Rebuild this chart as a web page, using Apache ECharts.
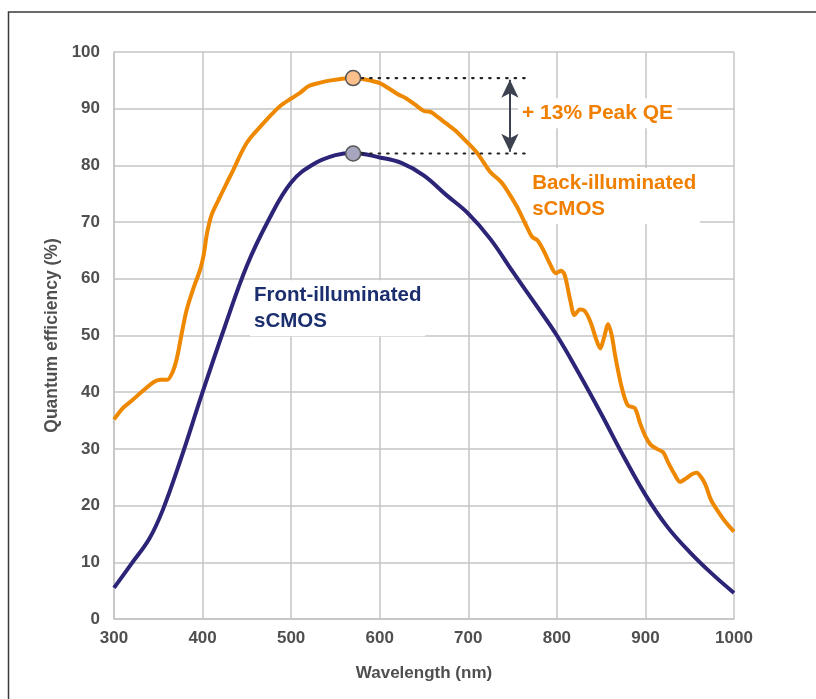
<!DOCTYPE html>
<html>
<head>
<meta charset="utf-8">
<script src="https://cdn.jsdelivr.net/npm/echarts@6/dist/echarts.min.js"></script>
<style>
html,body{margin:0;padding:0;background:#fff;}
#c{width:816px;height:699px;}
</style>
</head>
<body>
<div id="c"></div>
<script>
// ---- data ----
const xTicks = [300, 400, 500, 600, 700, 800, 900, 1000];
const yTicks = [0, 10, 20, 30, 40, 50, 60, 70, 80, 90, 100];

const frontIlluminated = [
  [300,5.5],[320,9.8],[340,14.2],[355,19.2],[375,28],[400,40],[425,51.5],[450,62.3],
  [475,70.5],[500,77],[525,80.2],[550,81.8],[570,82.2],[600,81.4],[625,80.4],[650,78.2],
  [675,74.8],[700,71.5],[725,67],[750,61.3],[775,55.7],[800,50],[825,43.3],[850,36.2],
  [875,28.8],[900,21.9],[925,16.2],[950,11.8],[975,8],[1000,4.6]
];

const backIlluminated = [
  [300,35.2],[310,37.2],[320,38.5],[333,40.3],[345,41.8],[352,42.2],[360,42.2],[366,43.5],
  [371,46],[376,50],[382,54.5],[390,58.5],[397,61.5],[401,64],[405,68],[410,71.2],[418,73.9],
  [427,76.8],[435,79.3],[443,82],[450,84],[458,85.6],[465,86.8],[475,88.5],[487,90.4],
  [500,91.8],[510,92.8],[520,94],[533,94.6],[545,95],[558,95.3],[570,95.4],[585,95.1],
  [600,94.5],[610,93.6],[620,92.6],[630,91.8],[640,90.7],[650,89.6],[658,89.4],[665,88.6],
  [675,87.4],[685,86.2],[698,84.2],[710,82.2],[717,80.6],[725,78.8],[737,77.1],[745,75.3],
  [755,72.7],[766,69.2],[772,67.4],[778,66.8],[785,65],[792,62.7],[799,61],[805,61.4],
  [809,60.6],[815,56.3],[820,53.6],[826,54.6],[831,54.4],[838,52.4],[844,49.5],[849,47.7],
  [853,49.5],[858,52],[862,50],[866,46.3],[873,41],[880,37.7],[888,37.2],[894,34.5],
  [900,32.2],[906,30.7],[913,30],[920,29.4],[926,27.5],[933,25.5],[939,24.2],[946,24.8],
  [952,25.5],[958,25.8],[963,25],[968,23.6],[974,21],[981,19.2],[990,17.2],[1000,15.4]
];

const peakWavelength = 570;
const peakBack = 95.4;
const peakFront = 82.1;
const guideEnd = 764;
const arrowX = 747;
const arrowTop = 95.1;
const arrowBottom = 82.4;

const labelPeak = ['+ 13% Peak QE'];
const labelBack = ['Back-illuminated', 'sCMOS'];
const labelFront = ['Front-illuminated', 'sCMOS'];
const labelPeakPos = [755.5, 89.2];
const labelBackPos = [767, 74.6];
const labelFrontPos = [453, 54.8];

// ---- chart ----
const chart = echarts.init(document.getElementById('c'));
const orange = '#ee8800';
const navy = '#2b2477';
const gridGray = '#c4c4c4';
const textGray = '#4f4f4f';
const font = '"Liberation Sans", Arial, Helvetica, sans-serif';

function textLabel(pos, lines, color, size) {
  return {
    type: 'scatter',
    data: [pos],
    symbolSize: 1,
    itemStyle: {color: 'rgba(0,0,0,0)', opacity: 1},
    silent: true,
    z: 10,
    label: {
      show: true,
      position: 'right',
      distance: 0,
      formatter: lines.join('\n'),
      color: color,
      opacity: 1,
      fontFamily: font,
      fontWeight: 'bold',
      fontSize: size,
      lineHeight: 26,
      backgroundColor: '#fff',
      padding: [2, 4, 2, 4]
    }
  };
}

chart.setOption({
  animation: false,
  backgroundColor: '#fff',
  graphic: [{
    type: 'rect',
    shape: {x: 8.5, y: 12, width: 900, height: 800},
    style: {fill: 'none', stroke: '#3a3a3a', lineWidth: 1.5},
    silent: true, z: -10
  }],
  grid: {left: 114, right: 82, top: 52, bottom: 80, containLabel: false},
  xAxis: {
    type: 'value', min: 300, max: 1000, interval: 100,
    name: 'Wavelength (nm)', nameLocation: 'middle', nameGap: 46,
    nameTextStyle: {color: textGray, fontFamily: font, fontWeight: 'bold', fontSize: 17},
    axisLine: {show: true, lineStyle: {color: gridGray, width: 1.5}},
    axisTick: {show: false},
    axisLabel: {color: textGray, fontFamily: font, fontWeight: 'bold', fontSize: 17, margin: 11,
      formatter: v => xTicks.includes(v) ? String(v) : ''},
    splitLine: {show: true, lineStyle: {color: gridGray, width: 1.5}}
  },
  yAxis: {
    type: 'value', min: 0, max: 100, interval: 10,
    name: 'Quantum efficiency (%)', nameLocation: 'middle', nameGap: 44, nameRotate: 90,
    nameTextStyle: {color: textGray, fontFamily: font, fontWeight: 'bold', fontSize: 17.5},
    axisLine: {show: true, lineStyle: {color: gridGray, width: 1.5}},
    axisTick: {show: false},
    axisLabel: {color: textGray, fontFamily: font, fontWeight: 'bold', fontSize: 17, margin: 14,
      formatter: v => yTicks.includes(v) ? String(v) : ''},
    splitLine: {show: true, lineStyle: {color: gridGray, width: 1.5}}
  },
  series: [
    {
      type: 'line', name: 'Front-illuminated sCMOS', data: frontIlluminated,
      smooth: 0.4, showSymbol: false, symbol: 'none',
      lineStyle: {color: navy, width: 4}, z: 3
    },
    {
      type: 'line', name: 'Back-illuminated sCMOS', data: backIlluminated,
      smooth: 0.3, showSymbol: false, symbol: 'none',
      lineStyle: {color: orange, width: 4}, z: 3
    },
    {
      type: 'line', data: [[peakWavelength, peakBack], [guideEnd, peakBack]],
      symbol: 'none', lineStyle: {color: '#222', width: 2.2, type: [1.5, 7], cap: 'round'}, z: 4
    },
    {
      type: 'line', data: [[peakWavelength, peakFront], [guideEnd, peakFront]],
      symbol: 'none', lineStyle: {color: '#222', width: 2.2, type: [1.5, 7], cap: 'round'}, z: 4,
      markLine: {
        silent: true, symbol: ['arrow', 'arrow'], symbolSize: [13, 18],
        lineStyle: {color: '#3c4250', width: 2, type: 'solid'},
        label: {show: false},
        data: [[{coord: [arrowX, arrowTop]}, {coord: [arrowX, arrowBottom]}]]
      }
    },
    {
      type: 'scatter', data: [[peakWavelength, peakBack]], symbolSize: 15, z: 6,
      itemStyle: {color: '#fbbf8c', borderColor: '#555', borderWidth: 1.5, opacity: 1}
    },
    {
      type: 'scatter', data: [[peakWavelength, peakFront]], symbolSize: 15, z: 6,
      itemStyle: {color: '#a6a6bf', borderColor: '#555', borderWidth: 1.5, opacity: 1}
    },
    textLabel(labelPeakPos, labelPeak, '#f07f00', 21),
    textLabel(labelBackPos, labelBack, '#f07f00', 20.5),
    textLabel(labelFrontPos, labelFront, '#1b2e6e', 20.5)
  ]
});
</script>
</body>
</html>
